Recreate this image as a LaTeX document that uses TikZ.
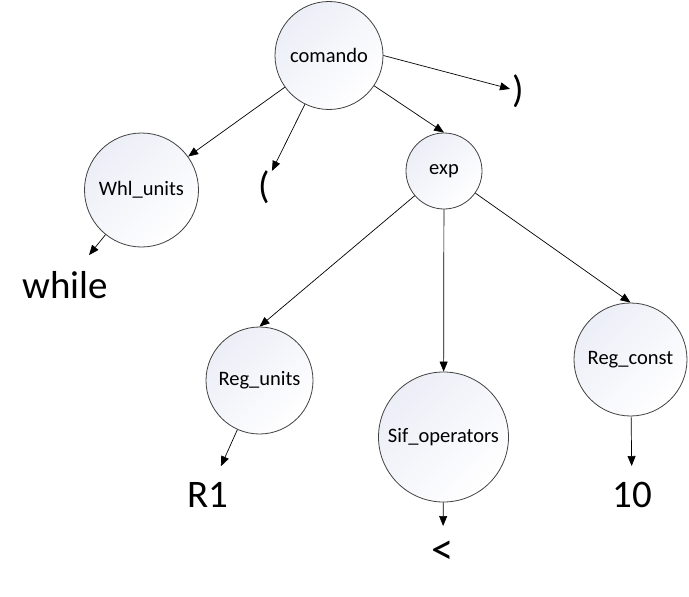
\documentclass[tikz,border=0pt]{standalone}
\usepackage{fontspec}
\setmainfont{Carlito}
\usetikzlibrary{arrows.meta,shapes}
\definecolor{nodetint}{RGB}{236,238,247}

\begin{document}
\begin{tikzpicture}[x=1pt,y=-1pt,
        tnode/.style={circle, draw=black!75, line width=0.8pt, top color=nodetint, bottom color=white, shading angle=45, inner sep=0pt, font=\fontsize{20.5}{24}\selectfont},
        leaf/.style={inner sep=16pt, font=\fontsize{39}{44}\selectfont},
        paren/.style={inner sep=2pt, font=\fontsize{38}{44}\selectfont},
        edge/.style={-{Triangle[length=10pt,width=8pt]}, line width=0.7pt}]
        \useasboundingbox (0,0) rectangle (689,597);

        \node (comando) at (329,55.5) [tnode, minimum size=108pt] {comando};
        \node (whl) at (141.5,190) [tnode, minimum size=114pt] {Whl\_units};
        \node (exp) at (444,171) [tnode, minimum size=76pt] {exp};
        \node (regu) at (259.5,380.5) [tnode, minimum size=107pt] {Reg\_units};
        \node (sif) at (443.5,437) [tnode, minimum size=130pt] {Sif\_operators};
        \node (regc) at (630.5,359.5) [tnode, minimum size=113pt] {Reg\_const};

        \node (while) at (65,285) [leaf] {while};
        \node (lparen) at (264,187) [paren] {(};
        \node (rparen) at (518,91) [paren] {)};
        \node (rone) at (208,495) [leaf] {R1};
        \node (lt) at (443,553) [leaf, inner sep=15pt, font=\fontsize{45}{50}\selectfont] {<};
        \node (ten) at (632,495) [leaf] {10};

        \draw[edge] (comando) -- (whl);
        \draw[edge] (comando) -- (lparen);
        \draw[edge] (comando.east) -- (rparen);
        \draw[edge] (comando) -- (exp.north);
        \draw[edge] (whl) -- (while);
        \draw[edge] (exp) -- (regu.north);
        \draw[edge] (exp) -- (sif);
        \draw[edge] (exp) -- (regc.north);
        \draw[edge] (regu) -- (rone);
        \draw[edge] (sif) -- (lt);
        \draw[edge] (regc) -- (ten);
    \end{tikzpicture}
\end{document}
